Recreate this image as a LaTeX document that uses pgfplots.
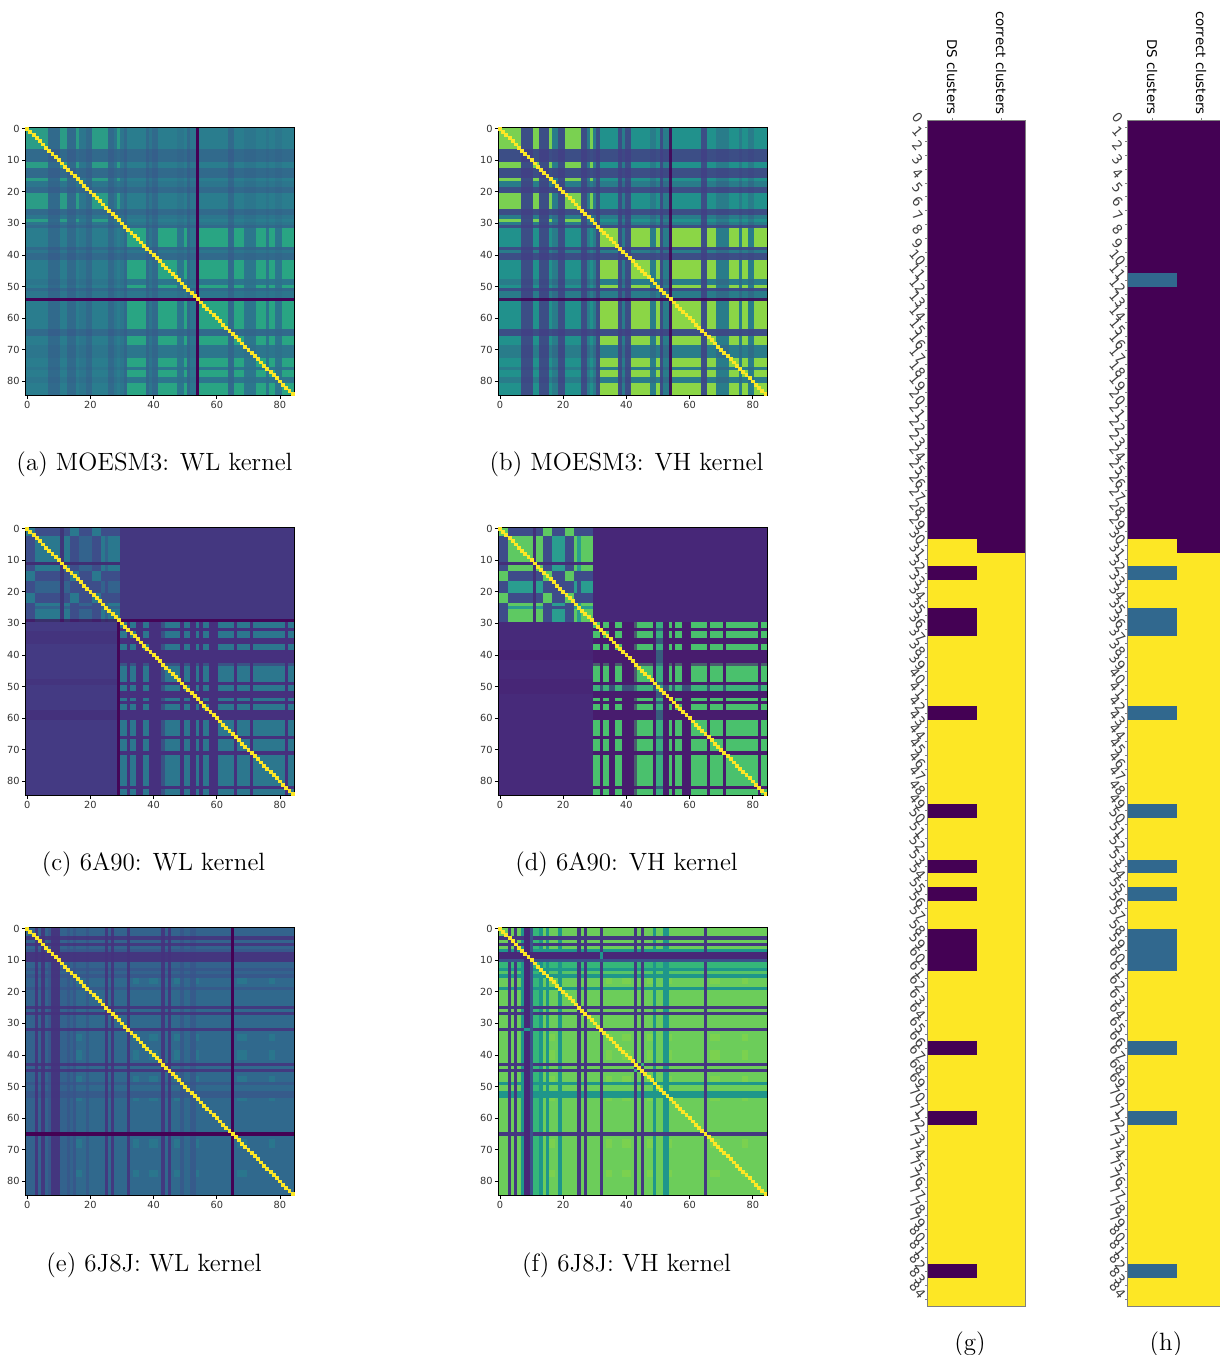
\documentclass[border=0pt]{standalone}
\usepackage{pgfplots}
\usepackage{pgfplotstable}
\usepackage{fontspec}
\pgfplotsset{compat=1.18}
\newfontfamily\tf{DejaVu Sans}
\definecolor{vy}{HTML}{FDE725}
\definecolor{vp}{HTML}{440154}
\definecolor{vt}{HTML}{31688E}
\definecolor{aB}{HTML}{2A7D8E}\definecolor{aI}{HTML}{2B9C86}\definecolor{aII}{HTML}{29A583}\definecolor{aD}{HTML}{3B528B}
\definecolor{bB}{HTML}{21918C}\definecolor{bI}{HTML}{7AD151}\definecolor{bII}{HTML}{8BD646}\definecolor{bD}{HTML}{433E85}
\definecolor{cO}{HTML}{443A83}\definecolor{cU}{HTML}{3D4E8A}\definecolor{cH}{HTML}{2A788E}\definecolor{cM}{HTML}{33638D}\definecolor{cL}{HTML}{2C778E}\definecolor{cN}{HTML}{46307E}
\definecolor{dO}{HTML}{472A7A}\definecolor{dU}{HTML}{3E4C8A}\definecolor{dH}{HTML}{5EC962}\definecolor{dM}{HTML}{2A9D8F}\definecolor{dL}{HTML}{4AC16D}\definecolor{dN}{HTML}{481C6E}
\definecolor{eB}{HTML}{33638D}\definecolor{eL}{HTML}{2C728E}\definecolor{eD}{HTML}{46327E}\definecolor{eT}{HTML}{3B528B}\definecolor{eS}{HTML}{26828E}
\definecolor{fB}{HTML}{6CCD5A}\definecolor{fD}{HTML}{453781}\definecolor{fV}{HTML}{482878}\definecolor{fT}{HTML}{1F968B}\definecolor{fS}{HTML}{8BD646}\definecolor{fM}{HTML}{35B779}\definecolor{fW}{HTML}{3B528B}
\pgfplotstableread{
x y
0.5 0.5
1.5 1.5
2.5 2.5
3.5 3.5
4.5 4.5
5.5 5.5
6.5 6.5
7.5 7.5
8.5 8.5
9.5 9.5
10.5 10.5
11.5 11.5
12.5 12.5
13.5 13.5
14.5 14.5
15.5 15.5
16.5 16.5
17.5 17.5
18.5 18.5
19.5 19.5
20.5 20.5
21.5 21.5
22.5 22.5
23.5 23.5
24.5 24.5
25.5 25.5
26.5 26.5
27.5 27.5
28.5 28.5
29.5 29.5
30.5 30.5
31.5 31.5
32.5 32.5
33.5 33.5
34.5 34.5
35.5 35.5
36.5 36.5
37.5 37.5
38.5 38.5
39.5 39.5
40.5 40.5
41.5 41.5
42.5 42.5
43.5 43.5
44.5 44.5
45.5 45.5
46.5 46.5
47.5 47.5
48.5 48.5
49.5 49.5
50.5 50.5
51.5 51.5
52.5 52.5
53.5 53.5
54.5 54.5
55.5 55.5
56.5 56.5
57.5 57.5
58.5 58.5
59.5 59.5
60.5 60.5
61.5 61.5
62.5 62.5
63.5 63.5
64.5 64.5
65.5 65.5
66.5 66.5
67.5 67.5
68.5 68.5
69.5 69.5
70.5 70.5
71.5 71.5
72.5 72.5
73.5 73.5
74.5 74.5
75.5 75.5
76.5 76.5
77.5 77.5
78.5 78.5
79.5 79.5
80.5 80.5
81.5 81.5
82.5 82.5
83.5 83.5
84.5 84.5
}\diagtable
\newcommand\R[5]{\addplot[draw=none,forget plot,#5] coordinates {(#1,#3)(#2,#3)(#2,#4)(#1,#4)};}
\makeatletter
\def\CrossA#1#2#3/#4,{\ifx e#3\expandafter\@gobble\else\expandafter\@firstofone\fi{\CrossB{#1}{#3}{#4}#2,e/e,\CrossA{#1}{#2}}}
\def\CrossB#1#2#3#4/#5,{\ifx e#4\expandafter\@gobble\else\expandafter\@firstofone\fi{\R{#2}{#3}{#4}{#5}{#1}\CrossB{#1}{#2}{#3}}}
\newcommand\Cross[3]{\edef\tmpa{\noexpand\CrossA{\unexpanded{#3}}{#2}#1,e/e,}\tmpa}
\def\SymA#1#2#3#4/#5,{\ifx e#4\expandafter\@gobble\else\expandafter\@firstofone\fi{\R{#4}{#5}{#1}{#2}{#3}\R{#1}{#2}{#4}{#5}{#3}\SymA{#1}{#2}{#3}}}
\newcommand\SymIn[4]{\edef\tmpa{\noexpand\SymA{#2}{#3}{\unexpanded{#4}}#1,e/e,}\tmpa}
\makeatother
\newcommand\Sym[2]{\SymIn{#1}{0}{85}{#2}}
\newcommand\Diag{\addplot[only marks,mark=square*,mark size=0.72pt,color=vy,mark options={draw=none,fill=vy},forget plot] table {\diagtable};}
\newcommand\SetI{0/7,11/13,16/17,21/26,29/30}
\newcommand\SetII{32/38,42/48,50/51,55/64,66/69,73/76,77/79,81/85}
\newcommand\SetD{7/11,13/16,19/21,26/28,31/32,38/39,40/42,51/52,64/66}
\newcommand\SetM{17/19,28/29,30/31,39/40,48/50,52/54,69/73,76/77,79/81}
\newcommand\SetP{0/3,14/17,21/24}
\newcommand\SetQ{3/11,12/14,24/25,26/30}
\newcommand\SetQm{17/21,25/26}
\newcommand\SetN{32/33,35/37,39/43,49/50,52/54,55/56,58/61,66/67,71/72,82/83}
\newcommand\SetFd{3/4,5/6,25/26,27/28,32/33,43/44,45/46,65/66}
\newcommand\SetFt{7/8,13/14,15/16,19/20,49/50,52/54}
\newcommand\SetFs{16/18,34/36,39/42,47/49,54/55,67/70,77/79}
\pgfplotsset{
  hm/.style={
    scale only axis,width=134.3pt,height=134.3pt,
    xmin=0,xmax=85,ymin=0,ymax=85,y dir=reverse,
    xtick={0.5,20.5,40.5,60.5,80.5},xticklabels={0,20,40,60,80},
    ytick={0.5,10.5,20.5,30.5,40.5,50.5,60.5,70.5,80.5},
    yticklabels={0,10,20,30,40,50,60,70,80},
    xtick pos=lower,ytick pos=left,tick align=outside,
    xticklabel pos=lower,
    major tick length=1.75pt,
    every tick/.style={black,line width=0.3pt},
    axis line style={line width=0.35pt},
    tick label style={font=\tf\fontsize{4.9}{5}\selectfont,inner sep=1pt,text=black!80},
    axis on top,clip=true,
  },
  cl/.style={
    scale only axis,width=49.2pt,height=593pt,
    xmin=0,xmax=2,ymin=0,ymax=85,y dir=reverse,
    xtick={0.5,1.5},xticklabels={DS clusters,correct clusters},
    ytick={0.5,1.5,2.5,3.5,4.5,5.5,6.5,7.5,8.5,9.5,10.5,11.5,12.5,13.5,14.5,15.5,16.5,17.5,18.5,19.5,20.5,21.5,22.5,23.5,24.5,25.5,26.5,27.5,28.5,29.5,30.5,31.5,32.5,33.5,34.5,35.5,36.5,37.5,38.5,39.5,40.5,41.5,42.5,43.5,44.5,45.5,46.5,47.5,48.5,49.5,50.5,51.5,52.5,53.5,54.5,55.5,56.5,57.5,58.5,59.5,60.5,61.5,62.5,63.5,64.5,65.5,66.5,67.5,68.5,69.5,70.5,71.5,72.5,73.5,74.5,75.5,76.5,77.5,78.5,79.5,80.5,81.5,82.5,83.5,84.5},
    yticklabels={0,1,2,3,4,5,6,7,8,9,10,11,12,13,14,15,16,17,18,19,20,21,22,23,24,25,26,27,28,29,30,31,32,33,34,35,36,37,38,39,40,41,42,43,44,45,46,47,48,49,50,51,52,53,54,55,56,57,58,59,60,61,62,63,64,65,66,67,68,69,70,71,72,73,74,75,76,77,78,79,80,81,82,83,84},
    xtick pos=upper,xticklabel pos=upper,ytick pos=left,tick align=outside,
    major tick length=1.2pt,
    every tick/.style={black!50,line width=0.25pt},
    axis line style={black!50,line width=0.4pt},
    xticklabel style={font=\tf\fontsize{6.7}{7}\selectfont,rotate=-90,anchor=east,inner sep=1.2pt,text=black},
    yticklabel style={font=\tf\fontsize{6.6}{7}\selectfont,rotate=-50,anchor=center,xshift=-5.8pt,text=black!75,inner sep=0pt},
    axis on top,clip=true,
  },
}
\newcommand\Cap[3]{\node[anchor=center,font=\fontsize{12.5}{14}\selectfont,inner sep=0pt] at ({#1*0.5pt},{(1352-#2)*0.5pt}) {#3};}
\newcommand\Cl[3]{%
\begin{axis}[cl,at={(#1,24.5pt)},anchor=south west]
\R{0}{2}{0}{85}{fill=vy}
\R{0}{1}{0}{30}{fill=vp}
\R{1}{2}{0}{31}{fill=vp}
#2
\Cross{0/1}{32/33,35/37,42/43,49/50,53/54,55/56,58/61,66/67,71/72,82/83}{fill=#3}
\end{axis}}
\begin{document}
\begin{tikzpicture}
\path[use as bounding box] (0,0) rectangle (610pt,677.5pt);
% (a)
\begin{axis}[hm,at={(12.8pt,479.7pt)},anchor=south west]
\R{0}{85}{0}{85}{fill=aB}
\Cross{\SetI}{\SetI}{fill=aI}
\Cross{\SetII}{\SetII}{fill=aII}
\Sym{\SetD}{fill=aD,fill opacity=0.42}
\Sym{\SetM}{fill=aD,fill opacity=0.15}
\Sym{54/55}{fill=vp}
\Diag
\end{axis}
% (b)
\begin{axis}[hm,at={(249.2pt,479.7pt)},anchor=south west]
\R{0}{85}{0}{85}{fill=bB}
\Cross{\SetI}{\SetI}{fill=bI}
\Cross{\SetII}{\SetII}{fill=bII}
\Sym{\SetD}{fill=bD,fill opacity=0.8}
\Sym{\SetM}{fill=bD,fill opacity=0.25}
\Sym{54/55}{fill=vp,fill opacity=0.85}
\Diag
\end{axis}
% (c)
\begin{axis}[hm,at={(12.8pt,279.7pt)},anchor=south west]
\R{0}{85}{0}{85}{fill=cO}
\R{0}{30}{0}{30}{fill=cU}
\Cross{\SetP}{\SetP}{fill=cH}
\Cross{\SetQ}{\SetQ}{fill=cH}
\Cross{\SetQ}{\SetQm}{fill=cM}
\Cross{\SetQm}{\SetQ}{fill=cM}
\R{0}{30}{11}{12}{fill=vp,fill opacity=0.4}
\R{11}{12}{0}{30}{fill=vp,fill opacity=0.3}
\R{0}{30}{29}{30}{fill=vp,fill opacity=0.6}
\R{30}{85}{30}{85}{fill=cL}
\SymIn{\SetN}{30}{85}{fill=cN}
\SymIn{43/44}{30}{85}{fill=cN,fill opacity=0.5}
\R{29}{30}{30}{85}{fill=vp,fill opacity=0.9}
\R{30}{85}{29}{30}{fill=vp,fill opacity=0.9}
\R{0}{29}{33}{37}{fill=vp,fill opacity=0.1}
\R{0}{29}{48}{50}{fill=vp,fill opacity=0.1}
\R{0}{29}{58}{61}{fill=vp,fill opacity=0.14}
\R{30}{85}{0}{29}{fill=vp,fill opacity=0.05}
\Diag
\end{axis}
% (d)
\begin{axis}[hm,at={(249.2pt,279.7pt)},anchor=south west]
\R{0}{85}{0}{85}{fill=dO}
\R{0}{30}{0}{30}{fill=dU}
\Cross{\SetP}{\SetP}{fill=dH}
\Cross{\SetQ}{\SetQ}{fill=dH}
\Cross{\SetQ}{\SetQm}{fill=dM}
\Cross{\SetQm}{\SetQ}{fill=dM}
\R{0}{30}{11}{12}{fill=dN,fill opacity=0.6}
\R{11}{12}{0}{30}{fill=dN,fill opacity=0.6}
\R{30}{85}{30}{85}{fill=dL}
\SymIn{\SetN}{30}{85}{fill=dN}
\SymIn{43/44}{30}{85}{fill=dN,fill opacity=0.6}
\R{50}{52}{30}{85}{fill=dM,fill opacity=0.5}
\R{30}{85}{50}{52}{fill=dM,fill opacity=0.4}
\R{0}{30}{39}{42}{fill=dN,fill opacity=0.4}
\R{0}{30}{48}{53}{fill=dN,fill opacity=0.25}
\R{30}{85}{0}{30}{fill=dN,fill opacity=0.15}
\Diag
\end{axis}
% (e)
\begin{axis}[hm,at={(12.8pt,79.7pt)},anchor=south west]
\R{0}{85}{0}{85}{fill=eB}
\R{16}{85}{16}{85}{fill=eL,fill opacity=0.4}
\Cross{\SetFs}{\SetFs}{fill=eS,fill opacity=0.55}
\Sym{\SetFt}{fill=eT,fill opacity=0.6}
\Sym{\SetFd}{fill=eD,fill opacity=0.85}
\Sym{8/11}{fill=eD,fill opacity=0.9}
\Sym{65/66}{fill=vp}
\Diag
\end{axis}
% (f)
\begin{axis}[hm,at={(249.2pt,79.7pt)},anchor=south west]
\R{0}{85}{0}{85}{fill=fB}
\R{0}{85}{11}{16}{fill=fM,fill opacity=0.4}
\Cross{\SetFs}{\SetFs}{fill=fS,fill opacity=0.5}
\Sym{11/13}{fill=fM}
\Sym{\SetFt}{fill=fT}
\Sym{\SetFd}{fill=fD}
\Sym{10/11}{fill=fW}
\Sym{8/10}{fill=fV}
\R{32}{33}{8}{10}{fill=fT}
\R{8}{10}{32}{33}{fill=fT}
\R{43}{46}{43}{46}{fill=fD}
\R{45}{46}{43}{44}{fill=fM}
\R{43}{44}{45}{46}{fill=fM}
\Diag
\end{axis}
% (g)
\Cl{463.7pt}{}{vp}
% (h)
\Cl{563.7pt}{\R{0}{1}{11}{12}{fill=vt}}{vt}
\Cap{154.5}{461}{(a) MOESM3: WL kernel}
\Cap{626.5}{461}{(b) MOESM3: VH kernel}
\Cap{153.5}{861}{(c) 6A90: WL kernel}
\Cap{626.5}{861}{(d) 6A90: VH kernel}
\Cap{154}{1262}{(e) 6J8J: WL kernel}
\Cap{626.5}{1262}{(f) 6J8J: VH kernel}
\Cap{970}{1341}{(g)}
\Cap{1166}{1341}{(h)}
\end{tikzpicture}
\end{document}
